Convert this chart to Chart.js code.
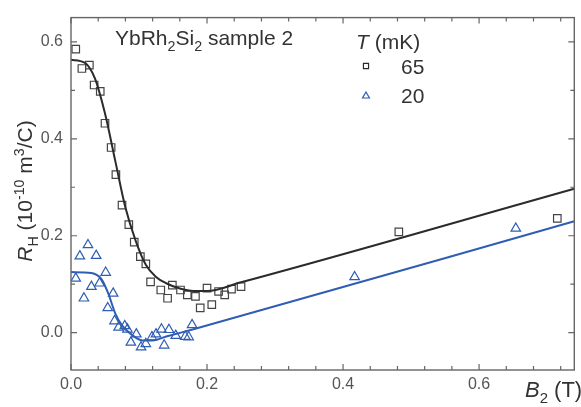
<!DOCTYPE html>
<html>
<head>
<meta charset="UTF-8">
<title>Hall coefficient YbRh2Si2</title>
<script src="https://cdn.jsdelivr.net/npm/chart.js"></script>
<style>
  html, body { margin: 0; padding: 0; background: #fff; }
  #wrap { width: 581px; height: 407px; position: relative; }
</style>
</head>
<body>
<div id="wrap"><canvas id="chart"></canvas></div>
<script>
// T = 65 mK (squares)
const b65 = [0.007, 0.016, 0.027, 0.034, 0.043, 0.050, 0.059, 0.066, 0.075, 0.085, 0.093, 0.102, 0.110, 0.117, 0.132, 0.142, 0.149, 0.161, 0.171, 0.183, 0.190, 0.200, 0.207, 0.217, 0.226, 0.236, 0.250, 0.482, 0.715];
const r65 = [0.585, 0.545, 0.552, 0.511, 0.498, 0.432, 0.382, 0.326, 0.263, 0.223, 0.187, 0.157, 0.142, 0.105, 0.088, 0.071, 0.098, 0.088, 0.078, 0.075, 0.051, 0.092, 0.058, 0.085, 0.078, 0.090, 0.095, 0.208, 0.236];

// T = 20 mK (triangles)
const b20 = [0.007, 0.013, 0.019, 0.025, 0.030, 0.037, 0.042, 0.051, 0.054, 0.062, 0.064, 0.070, 0.079, 0.083, 0.088, 0.096, 0.103, 0.110, 0.119, 0.125, 0.133, 0.137, 0.144, 0.154, 0.168, 0.173, 0.178, 0.417, 0.654];
const r20 = [0.112, 0.158, 0.071, 0.181, 0.095, 0.159, 0.102, 0.124, 0.051, 0.081, 0.024, 0.011, 0.014, 0.007, -0.020, -0.003, -0.030, -0.023, -0.009, -0.003, 0.007, -0.026, 0.006, -0.006, -0.008, -0.009, 0.016, 0.115, 0.215];

// fit curves
const fit65B = [0, 0.02, 0.035, 0.05, 0.065, 0.08, 0.095, 0.11, 0.125, 0.14, 0.16, 0.18, 0.2, 0.25, 0.74];
const fit65R = [0.563, 0.557, 0.525, 0.452, 0.355, 0.258, 0.19, 0.14, 0.115, 0.102, 0.091, 0.086, 0.086, 0.104, 0.297];
const fit20B = [0, 0.03, 0.045, 0.055, 0.065, 0.075, 0.09, 0.105, 0.12, 0.14, 0.18, 0.74];
const fit20R = [0.125, 0.123, 0.11, 0.08, 0.04, 0.015, -0.005, -0.016, -0.016, -0.008, 0.007, 0.230];

const xTickVals = [0, 0.2, 0.4, 0.6];
const yTickVals = [0, 0.2, 0.4, 0.6];
const legendLabels = ['65', '20'];

const FONT = '"Liberation Sans", Arial, sans-serif';
const BLACK = '#2b2b2b';
const BLUE = '#2f5db4';

const pts = (xs, ys) => xs.map((x, i) => ({ x, y: ys[i] }));

// draws a run of text pieces (italic / sub / sup) from x along baseline y
function richText(ctx, parts, x, y, size, measureOnly) {
  let w = 0;
  parts.forEach(p => {
    const s = p.sub || p.sup ? size * 0.68 : size;
    ctx.font = (p.it ? 'italic ' : '') + s + 'px ' + FONT;
    const dy = p.sub ? size * 0.28 : p.sup ? -size * 0.4 : 0;
    if (!measureOnly) ctx.fillText(p.t, x + w, y + dy);
    w += ctx.measureText(p.t).width;
  });
  return w;
}

const framePlugin = {
  id: 'frame',
  afterDraw(chart) {
    const { ctx, chartArea: a, scales } = chart;
    const xs = scales.x, ys = scales.y;
    ctx.save();
    ctx.strokeStyle = '#666';
    ctx.lineWidth = 1.4;
    ctx.strokeRect(a.left, a.top, a.right - a.left, a.bottom - a.top);

    // inward ticks on all four sides
    ctx.lineWidth = 1.2;
    ctx.beginPath();
    for (let v = 0; v <= xs.max + 1e-9; v += 0.04) {
      const px = xs.getPixelForValue(v);
      const major = Math.abs(v / 0.2 - Math.round(v / 0.2)) < 1e-6;
      const len = major ? 6 : 4;
      ctx.moveTo(px, a.bottom); ctx.lineTo(px, a.bottom - len);
      ctx.moveTo(px, a.top); ctx.lineTo(px, a.top + len);
    }
    for (let v = 0; v <= ys.max + 1e-9; v += 0.1) {
      const py = ys.getPixelForValue(v);
      const major = Math.abs(v / 0.2 - Math.round(v / 0.2)) < 1e-6;
      const len = major ? 6 : 4;
      ctx.moveTo(a.left, py); ctx.lineTo(a.left + len, py);
      ctx.moveTo(a.right, py); ctx.lineTo(a.right - len, py);
    }
    ctx.stroke();

    ctx.fillStyle = '#333';
    ctx.textBaseline = 'alphabetic';
    ctx.textAlign = 'left';

    // sample label
    richText(ctx, [{ t: 'YbRh' }, { t: '2', sub: true }, { t: 'Si' }, { t: '2', sub: true }, { t: ' sample 2' }], 115, 45, 21);

    // legend
    richText(ctx, [{ t: 'T', it: true }, { t: ' (mK)' }], 356, 49, 21);
    ctx.font = '21px ' + FONT;
    ctx.fillText(legendLabels[0], 401, 74);
    ctx.fillText(legendLabels[1], 401, 103);
    ctx.fillStyle = 'rgba(0,0,0,0)';
    ctx.lineWidth = 1.2;
    ctx.strokeStyle = BLACK;
    Chart.helpers.drawPoint(ctx, { pointStyle: 'rect', radius: 3.6, borderWidth: 1.2 }, 366, 66);
    ctx.strokeStyle = BLUE;
    Chart.helpers.drawPoint(ctx, { pointStyle: 'triangle', radius: 4, borderWidth: 1.2 }, 366, 96);

    // x title
    ctx.fillStyle = '#333';
    richText(ctx, [{ t: 'B', it: true }, { t: '2', sub: true }, { t: ' (T)' }], 525, 397, 22);

    // y title (rotated)
    const yParts = [{ t: 'R', it: true }, { t: 'H', sub: true }, { t: ' (10' }, { t: '-10', sup: true }, { t: ' m' }, { t: '3', sup: true }, { t: '/C)' }];
    ctx.translate(32, 191);
    ctx.rotate(-Math.PI / 2);
    const w = richText(ctx, yParts, 0, 0, 21, true);
    richText(ctx, yParts, -w / 2, 0, 21);
    ctx.restore();
  }
};

const tickFont = { family: FONT, size: 16 };

new Chart(document.getElementById('chart'), {
  type: 'scatter',
  data: {
    datasets: [
      {
        label: '65 mK fit', type: 'line', data: pts(fit65B, fit65R),
        borderColor: BLACK, borderWidth: 2, pointRadius: 0,
        cubicInterpolationMode: 'monotone', fill: false
      },
      {
        label: '20 mK fit', type: 'line', data: pts(fit20B, fit20R),
        borderColor: BLUE, borderWidth: 2, pointRadius: 0,
        cubicInterpolationMode: 'monotone', fill: false
      },
      {
        label: '65', data: pts(b65, r65),
        pointStyle: 'rect', pointRadius: 5.3, borderColor: '#444',
        backgroundColor: 'rgba(0,0,0,0)', pointBorderWidth: 1.2
      },
      {
        label: '20', data: pts(b20, r20),
        pointStyle: 'triangle', pointRadius: 5.5, borderColor: BLUE,
        backgroundColor: 'rgba(0,0,0,0)', pointBorderWidth: 1.2
      }
    ]
  },
  options: {
    responsive: true,
    maintainAspectRatio: false,
    animation: false,
    layout: { padding: { top: 10, right: 1, left: 0, bottom: 0 } },
    plugins: { legend: { display: false }, tooltip: { enabled: false } },
    scales: {
      x: {
        type: 'linear', min: 0, max: 0.74,
        afterBuildTicks: s => { s.ticks = xTickVals.map(v => ({ value: v })); },
        afterFit: s => { s.height = 37; },
        ticks: { callback: v => v.toFixed(1), font: tickFont, color: '#555', padding: 5, maxRotation: 0, autoSkip: false },
        grid: { display: false, drawTicks: false },
        border: { display: false }
      },
      y: {
        type: 'linear', min: -0.077, max: 0.65,
        afterBuildTicks: s => { s.ticks = yTickVals.map(v => ({ value: v })); },
        afterFit: s => { s.width = 71; },
        ticks: { callback: v => v.toFixed(1), font: tickFont, color: '#555', padding: 8, autoSkip: false },
        grid: { display: false, drawTicks: false },
        border: { display: false }
      }
    }
  },
  plugins: [framePlugin]
});
</script>
</body>
</html>
